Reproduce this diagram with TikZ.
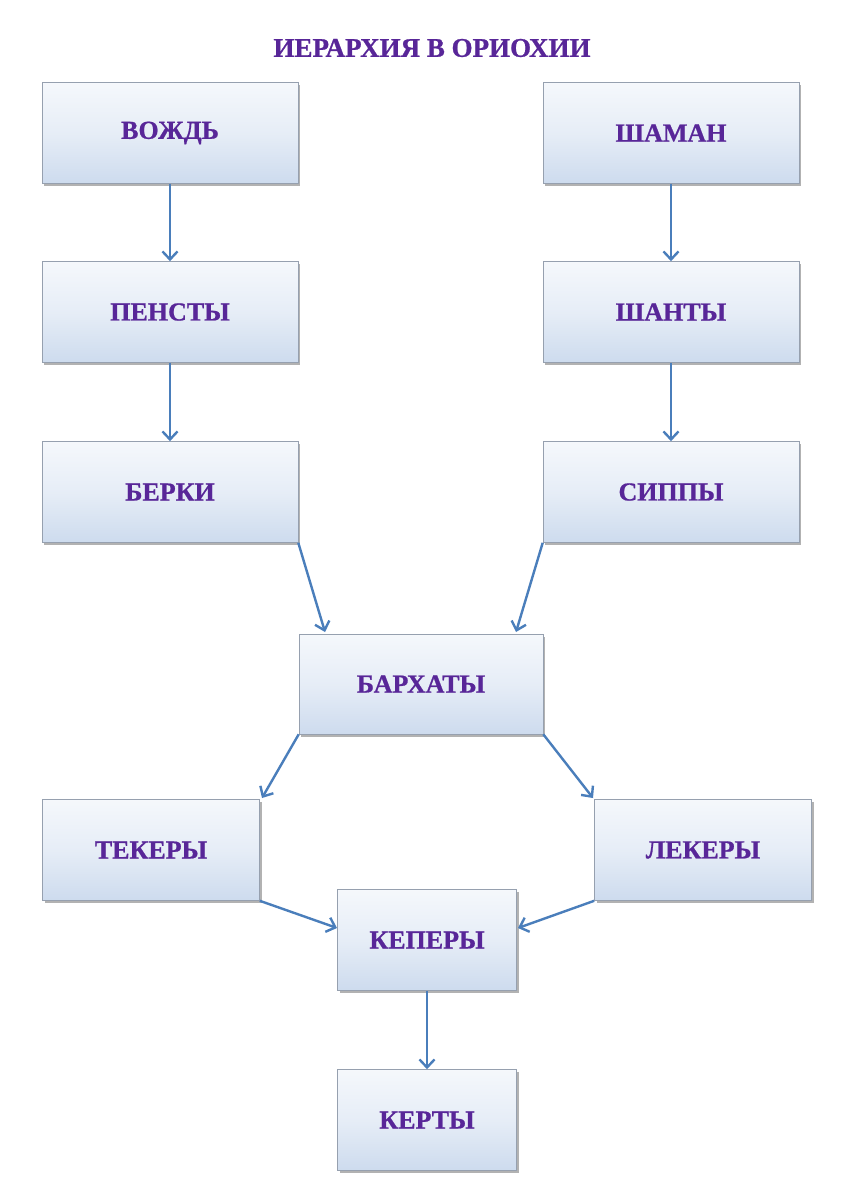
\documentclass[tikz,border=0pt]{standalone}
\usepackage{fontspec}
\setmainfont[BoldFeatures={FakeBold=0.8}]{Liberation Serif}
\usetikzlibrary{arrows.meta,shadows,calc}
\definecolor{ttl}{RGB}{88,38,152}
\definecolor{arr}{RGB}{74,126,187}
\definecolor{ice}{RGB}{205,219,238}
\definecolor{edge}{RGB}{150,160,175}
\tikzset{
  rankbox/.style={draw=edge, line width=0.6pt, inner sep=0pt,
    top color=white!80!ice, bottom color=ice, middle color=white!50!ice,
    drop shadow={shadow xshift=2pt, shadow yshift=-2.5pt, fill=black!50, opacity=0.6},
    font=\fontsize{26}{28}\selectfont\bfseries, text=ttl},
  wide/.style={rankbox, minimum width=256pt, minimum height=101pt},
  mid/.style={rankbox, minimum width=244pt, minimum height=100pt},
  side/.style={rankbox, minimum width=217pt, minimum height=101pt},
  small/.style={rankbox, minimum width=179pt, minimum height=101pt},
  link/.style={draw=arr, line width=2.4pt, -{Straight Barb[length=8pt,width=15pt,line width=2.4pt]}}
}
\begin{document}
\begin{tikzpicture}[x=1pt,y=-1pt]
\useasboundingbox[fill=white] (0,0) rectangle (849,1200);
\node[font=\fontsize{27}{29}\selectfont\bfseries, text=ttl] (title) at (432,48) {ИЕРАРХИЯ В ОРИОХИИ};
\node[wide] (vozhd) at (170,133) {ВОЖДЬ};
\node[wide] (shaman) at (671,133) {ШАМАН};
\node[wide] (pensty) at (170,312) {ПЕНСТЫ};
\node[wide] (shanty) at (671,312) {ШАНТЫ};
\node[wide] (berki) at (170,492) {БЕРКИ};
\node[wide] (sippy) at (671,492) {СИППЫ};
\node[mid] (barx) at (421,684) {БАРХАТЫ};
\node[side] (teker) at (151,850) {ТЕКЕРЫ};
\node[side] (leker) at (703,850) {ЛЕКЕРЫ};
\node[small] (keper) at (427,940) {КЕПЕРЫ};
\node[small] (kert) at (427,1120) {КЕРТЫ};
\coordinate (bL) at (325,632);
\coordinate (bR) at (516,632);
\coordinate (tT) at (262,798);
\coordinate (lT) at (593,798);
\coordinate (kL) at (337,928);
\coordinate (kR) at (518,928);
\draw[link] (vozhd) -- (pensty);
\draw[link] (pensty) -- (berki);
\draw[link] (shaman) -- (shanty);
\draw[link] (shanty) -- (sippy);
\draw[link] (berki.south east) -- (bL);
\draw[link] (sippy.south west) -- (bR);
\draw[link] (barx.south west) -- (tT);
\draw[link] (barx.south east) -- (lT);
\draw[link] (teker.south east) -- (kL);
\draw[link] (leker.south west) -- (kR);
\draw[link] (keper) -- (kert);
\end{tikzpicture}
\end{document}
